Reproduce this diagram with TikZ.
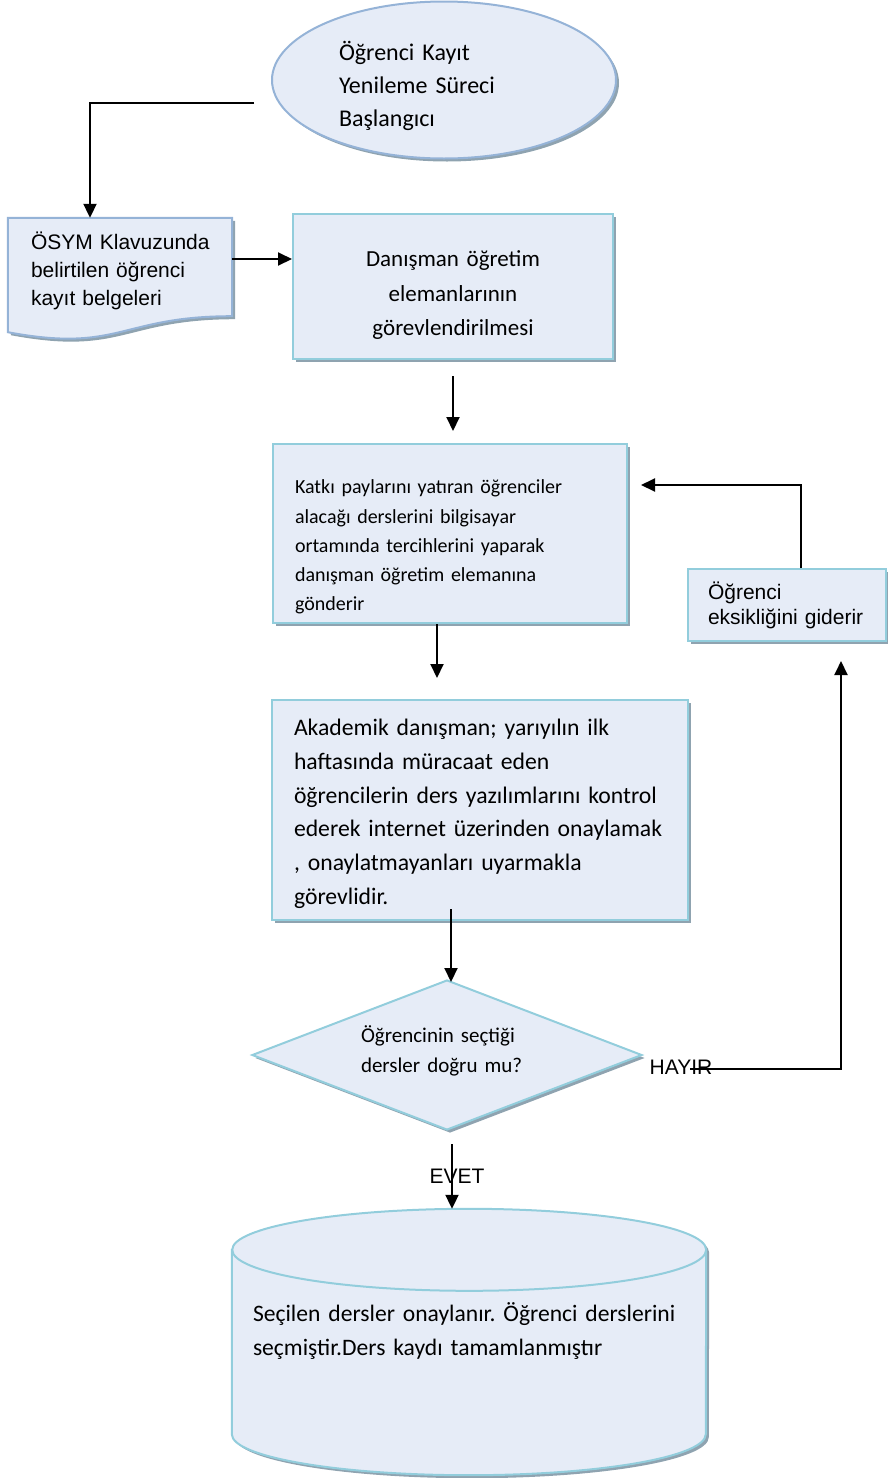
\documentclass[tikz,border=0pt]{standalone}
\usepackage{fontspec}
\setmainfont{Carlito}
\newfontfamily\arialf{Liberation Sans}
\usetikzlibrary{shapes.geometric,arrows.meta,shadows,backgrounds}
\frenchspacing
\hyphenpenalty=10000
\exhyphenpenalty=10000
\definecolor{blockfill}{RGB}{230,236,247}
\definecolor{cyanline}{RGB}{146,205,220}
\definecolor{blueline}{RGB}{149,179,215}
\definecolor{shadowc}{RGB}{143,163,176}
\tikzset{
  softshadow/.style={drop shadow={shadow xshift=3pt,shadow yshift=-3pt,opacity=1,fill=shadowc}},
  process/.style={rectangle, draw=cyanline, line width=2pt, fill=blockfill, softshadow, inner sep=0pt},
  conn/.style={line width=2pt, -{Triangle[length=14pt,width=13pt]}},
}
\begin{document}
\begin{tikzpicture}[x=1pt,y=-1pt]
  \useasboundingbox (0,0) rectangle (888,1478);
  \node[ellipse, draw=blueline, line width=2pt, fill=blockfill, softshadow, inner sep=0pt,
    minimum width=344pt, minimum height=157pt, text width=210pt, align=left,
    font=\fontsize{24pt}{33pt}\selectfont] (start) at (444,80)
    {\rule{0pt}{32pt}Öğrenci Kayıt\\Yenileme Süreci\\Başlangıcı};
  \node[rectangle, inner xsep=23pt, inner ysep=0pt, minimum width=224pt, minimum height=106pt,
    text width=178pt, align=left, font=\arialf\fontsize{21pt}{28pt}\selectfont] (doc) at (120,271)
    {\mbox{ÖSYM Klavuzunda}\\belirtilen öğrenci\\kayıt belgeleri};
  \node[process, minimum width=320pt, minimum height=145pt, text width=260pt, align=center,
    font=\fontsize{23pt}{34.5pt}\selectfont] (dan) at (453,286.5)
    {\rule{0pt}{33pt}Danışman öğretim\\elemanlarının\\görevlendirilmesi};
  \node[process, minimum width=354pt, minimum height=179pt, text width=310pt, align=left,
    font=\fontsize{20pt}{29.2pt}\selectfont] (katki) at (450,533.5)
    {\rule{0pt}{41pt}Katkı paylarını yatıran öğrenciler\\alacağı derslerini bilgisayar\\ortamında tercihlerini yaparak\\danışman öğretim elemanına\\gönderir};
  \node[process, minimum width=198pt, minimum height=72pt, text width=158pt, align=left,
    font=\arialf\fontsize{21pt}{25pt}\selectfont] (eks) at (787,605)
    {Öğrenci\\\mbox{eksikliğini giderir}};
  \node[process, minimum width=416pt, minimum height=220pt, text width=372pt, align=left,
    font=\fontsize{23.7pt}{33.7pt}\selectfont] (akad) at (480,810)
    {\rule{0pt}{24pt}Akademik danışman; yarıyılın ilk\\haftasında müracaat eden\\\mbox{öğrencilerin ders yazılımlarını kontrol}\\\mbox{ederek internet üzerinden onaylamak}\\, onaylatmayanları uyarmakla\\görevlidir.};
  \node[diamond, aspect=2.6, draw=cyanline, line width=2pt, fill=blockfill, softshadow, inner sep=0pt,
    minimum width=390pt, minimum height=150pt, text width=172pt, align=left,
    font=\fontsize{21pt}{30pt}\selectfont] (dec) at (447,1055)
    {Öğrencinin seçtiği\\dersler doğru mu?\rule[-12pt]{0pt}{12pt}};
  \node[font=\arialf\fontsize{21pt}{25pt}\selectfont, inner sep=0pt] (hayir) at (681,1067) {HAYIR};
  \node[rectangle, inner sep=0pt, minimum width=474pt, minimum height=266pt, text width=432pt,
    align=left, font=\fontsize{23.6pt}{34pt}\selectfont] (db) at (469,1342)
    {\mbox{Seçilen dersler onaylanır. Öğrenci derslerini}\\seçmiştir.Ders kaydı tamamlanmıştır\rule[-26pt]{0pt}{26pt}};
  \begin{scope}[on background layer]
    \draw[draw=blueline, line width=2pt, fill=blockfill, softshadow]
      (doc.north west) -- (doc.north east) -- ([yshift=8pt]doc.south east)
      .. controls ([yshift=8pt]doc.south) and ([yshift=-29pt]doc.south) .. ([yshift=-8pt]doc.south west) -- cycle;
    \draw[draw=cyanline, line width=2pt, fill=blockfill, softshadow]
      ([yshift=-41pt]db.north west) -- ([yshift=41pt]db.south west)
      arc[start angle=180, end angle=360, x radius=237pt, y radius=41pt]
      -- ([yshift=-41pt]db.north east)
      arc[start angle=0, end angle=180, x radius=237pt, y radius=41pt] -- cycle;
    \draw[draw=cyanline, line width=2pt] ([yshift=-41pt]db.north east)
      arc[start angle=0, end angle=-180, x radius=237pt, y radius=41pt];
  \end{scope}
  \draw[conn] ([xshift=-17pt,yshift=-23pt]start.west) -| ([xshift=-30pt]doc.north);
  \draw[conn] ([yshift=12pt]doc.east) -- ([yshift=27.5pt]dan.west);
  \draw[conn] ([yshift=-16pt]dan.south) -- ([xshift=3pt,yshift=12pt]katki.north);
  \draw[conn] ([xshift=-13pt]katki.south) -- ([xshift=-43pt,yshift=21pt]akad.north);
  \draw[conn] ([xshift=-29pt,yshift=12pt]akad.south) -- ([xshift=4pt,yshift=-3pt]dec.north);
  \draw[conn] ([xshift=9pt,yshift=-2pt]hayir.center) -| ([xshift=54pt,yshift=-19pt]eks.south);
  \draw[conn] ([xshift=14pt]eks.north) |- ([xshift=13pt,yshift=48.5pt]katki.east);
  \draw[conn] ([xshift=5pt,yshift=-13pt]dec.south) -- node[xshift=5pt, inner sep=0pt,
    font=\arialf\fontsize{21pt}{25pt}\selectfont] (evet) {EVET} ([xshift=-17pt]db.north);
\end{tikzpicture}
\end{document}
